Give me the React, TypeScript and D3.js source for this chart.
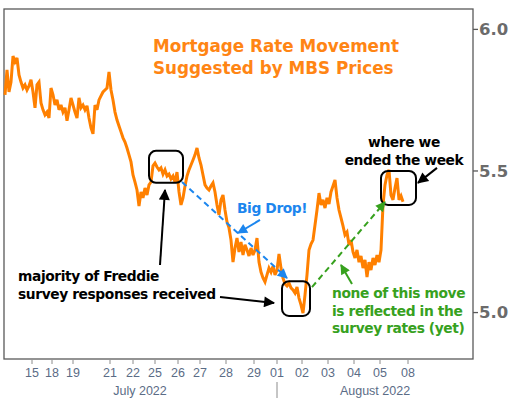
import React from 'react';
import * as d3 from 'd3';

// MBS-implied mortgage rate, one reading per step (mid July - Aug 8 2022)
const rates = [
  5.769, 5.857, 5.779, 5.814, 5.906, 5.885, 5.899, 5.839, 5.814, 5.793,
  5.804, 5.786, 5.8, 5.822, 5.779, 5.723, 5.804, 5.814, 5.74, 5.716,
  5.698, 5.708, 5.687, 5.793, 5.769, 5.733, 5.751, 5.716, 5.733, 5.708,
  5.723, 5.677, 5.716, 5.758, 5.733, 5.708, 5.687, 5.758, 5.723, 5.733,
  5.716, 5.73, 5.687, 5.652, 5.631, 5.733, 5.716, 5.751, 5.765, 5.779,
  5.786, 5.793, 5.85, 5.786, 5.751, 5.708, 5.68, 5.659, 5.638, 5.617,
  5.602, 5.581, 5.557, 5.532, 5.486, 5.461, 5.433, 5.376, 5.426, 5.405,
  5.44, 5.415, 5.451, 5.461, 5.518, 5.528, 5.514, 5.504, 5.511, 5.489,
  5.504, 5.482, 5.489, 5.472, 5.482, 5.461, 5.496, 5.426, 5.38, 5.405,
  5.447, 5.482, 5.504, 5.521, 5.539, 5.557, 5.581, 5.546, 5.521, 5.486,
  5.451, 5.44, 5.433, 5.447, 5.458, 5.426, 5.38, 5.345, 5.398, 5.415,
  5.362, 5.32, 5.299, 5.256, 5.178, 5.228, 5.263, 5.214, 5.249, 5.203,
  5.239, 5.221, 5.2, 5.228, 5.203, 5.221, 5.263, 5.178, 5.143, 5.122,
  5.108, 5.133, 5.157, 5.143, 5.164, 5.133, 5.15, 5.207, 5.157, 5.122,
  5.101, 5.094, 5.104, 5.087, 5.08, 5.069, 5.09, 5.051, 5.027, 4.998,
  5.062, 5.133, 5.221, 5.242, 5.256, 5.309, 5.362, 5.422, 5.38, 5.398,
  5.369, 5.405, 5.383, 5.426, 5.447, 5.468, 5.405, 5.362, 5.334, 5.306,
  5.274, 5.284, 5.239, 5.256, 5.214, 5.193, 5.221, 5.178, 5.2, 5.157,
  5.186, 5.125, 5.178, 5.15, 5.193, 5.168, 5.203, 5.178, 5.221, 5.38,
  5.451, 5.486, 5.504, 5.415, 5.398, 5.44, 5.475, 5.398, 5.412, 5.391,
];

// day ticks, placed on the reading index where each session starts
const dayLabels = ['15', '18', '19', '21', '22', '25', '26', '27', '28', '29', '01', '02', '03', '04', '05', '08'];
const dayIndex = [13.5, 23.5, 34, 52.5, 64, 75, 86.5, 97.5, 110.5, 124.5, 136, 148.5, 161.5, 174.5, 187.5, 201.5];

const months = ['July 2022', 'August 2022'];
const monthCenter = [67.5, 185];
const monthSplit = 136;

const yTicks = [5.0, 5.5, 6.0];

const W = 525;
const H = 398;
const frame = { left: 4, right: 473, top: 9, bottom: 359 };

const ORANGE = '#FF8000';
const BLUE = '#1C86EE';
const GREEN = '#37A11E';
const BOLD = "'DejaVu Sans', Verdana, sans-serif";
const AXIS = "'Liberation Sans', Arial, sans-serif";

export default function App() {
  const x = d3.scaleLinear().domain([-0.5, 234]).range([frame.left, frame.right]);
  const y = d3.scaleLinear().domain([4.836, 6.072]).range([frame.bottom, frame.top]);

  const line = d3
    .line<number>()
    .x((_, i) => x(i))
    .y((d) => y(d));

  // boxes in data space [index from, index to, rate top, rate bottom]
  const boxes = [
    [72, 89, 5.571, 5.458],
    [138.5, 152.5, 5.111, 4.988],
    [188, 205.5, 5.5, 5.38],
  ];

  const arrow = (x1, v1, x2, v2, color, marker, dash?) => (
    <line
      x1={x(x1)}
      y1={y(v1)}
      x2={x(x2)}
      y2={y(v2)}
      stroke={color}
      strokeWidth={2}
      strokeDasharray={dash}
      markerEnd={`url(#${marker})`}
    />
  );

  return (
    <svg
      width={W}
      height={H}
      style={{ position: 'absolute', left: 0, top: 0, background: '#fff' }}
    >
      <defs>
        {[
          ['headBlack', '#000', 13, 11],
          ['headBlue', BLUE, 12, 10],
          ['headGreen', GREEN, 12, 10],
        ].map(([id, c, w, h]) => (
          <marker
            key={id}
            id={id}
            viewBox="0 0 10 10"
            refX={9}
            refY={5}
            markerWidth={w}
            markerHeight={h}
            markerUnits="userSpaceOnUse"
            orient="auto"
          >
            <path d="M0,0 L10,5 L0,10 z" fill={c} />
          </marker>
        ))}
      </defs>

      <rect x={0} y={0} width={W} height={H} fill="#fff" />

      {/* plot frame */}
      <rect
        x={frame.left}
        y={frame.top}
        width={frame.right - frame.left}
        height={frame.bottom - frame.top}
        fill="none"
        stroke="#595959"
        strokeWidth={1.3}
      />

      {/* y axis on the right */}
      {yTicks.map((t) => (
        <g key={t}>
          <line x1={frame.right} x2={frame.right + 5} y1={y(t)} y2={y(t)} stroke="#595959" strokeWidth={1.3} />
          <text
            x={frame.right + 6}
            y={y(t)}
            dy="0.36em"
            fontFamily={BOLD}
            fontWeight="bold"
            fontSize={16.5}
            fill="#6b6b6b"
          >
            {t.toFixed(1)}
          </text>
        </g>
      ))}

      {/* x axis */}
      {dayLabels.map((d, i) => (
        <g key={d + i}>
          <line
            x1={x(dayIndex[i])}
            x2={x(dayIndex[i])}
            y1={frame.bottom + 1}
            y2={frame.bottom + 5}
            stroke="#8c8c8c"
            strokeWidth={1}
          />
          <text x={x(dayIndex[i])} y={377} textAnchor="middle" fontFamily={AXIS} fontSize={12.5} fill="#5B6C86">
            {d}
          </text>
        </g>
      ))}
      {months.map((m, i) => (
        <text key={m} x={x(monthCenter[i])} y={395} textAnchor="middle" fontFamily={AXIS} fontSize={12.5} fill="#5B6C86">
          {m}
        </text>
      ))}
      <line x1={x(monthSplit)} x2={x(monthSplit)} y1={382} y2={398} stroke="#8c8c8c" strokeWidth={1} />

      {/* rate line */}
      <path d={line(rates) || ''} fill="none" stroke={ORANGE} strokeWidth={3} strokeLinejoin="miter" strokeMiterlimit={3} />

      {/* title */}
      <text fontFamily={BOLD} fontWeight="bold" fontSize={16.8} fill="#FF8514">
        <tspan x={x(74)} y={y(5.92)}>Mortgage Rate Movement</tspan>
        <tspan x={x(74)} y={y(5.843)}>Suggested by MBS Prices</tspan>
      </text>

      {/* highlight boxes */}
      {boxes.map(([a, b, top, bot], i) => (
        <rect
          key={i}
          x={x(a)}
          y={y(top)}
          width={x(b) - x(a)}
          height={y(bot) - y(top)}
          rx={7}
          fill="none"
          stroke="#000"
          strokeWidth={2}
        />
      ))}

      {/* arrows */}
      {arrow(77.5, 5.168, 80, 5.433, '#000', 'headBlack')}
      {arrow(107.5, 5.055, 134.5, 5.034, '#000', 'headBlack')}
      {arrow(216, 5.511, 206.5, 5.458, '#000', 'headBlack')}
      {arrow(88.5, 5.461, 141, 5.122, BLUE, 'headBlue', '6,4')}
      {arrow(127.5, 5.327, 116.5, 5.281, BLUE, 'headBlue')}
      {arrow(153.5, 5.09, 190, 5.39, GREEN, 'headGreen', '6,4')}
      {arrow(173.5, 5.101, 168, 5.168, GREEN, 'headGreen')}

      {/* annotations */}
      <text fontFamily={BOLD} fontWeight="bold" fontSize={13.8} letterSpacing={-0.4} fill="#000">
        <tspan x={x(6.5)} y={y(5.11)}>majority of Freddie</tspan>
        <tspan x={x(6.5)} y={y(5.049)}>survey responses received</tspan>
      </text>
      <text x={x(116)} y={y(5.35)} fontFamily={BOLD} fontWeight="bold" fontSize={13.8} letterSpacing={-0.4} fill={BLUE}>
        Big Drop!
      </text>
      <text fontFamily={BOLD} fontWeight="bold" fontSize={13.8} letterSpacing={-0.4} fill={GREEN}>
        <tspan x={x(163.5)} y={y(5.051)}>none of this move</tspan>
        <tspan x={x(163.5)} y={y(4.989)}>is reflected in the</tspan>
        <tspan x={x(163.5)} y={y(4.928)}>survey rates (yet)</tspan>
      </text>
      <text fontFamily={BOLD} fontWeight="bold" fontSize={13.8} letterSpacing={-0.4} fill="#000" textAnchor="middle">
        <tspan x={x(199.5)} y={y(5.585)}>where we</tspan>
        <tspan x={x(199.5)} y={y(5.521)}>ended the week</tspan>
      </text>
    </svg>
  );
}
